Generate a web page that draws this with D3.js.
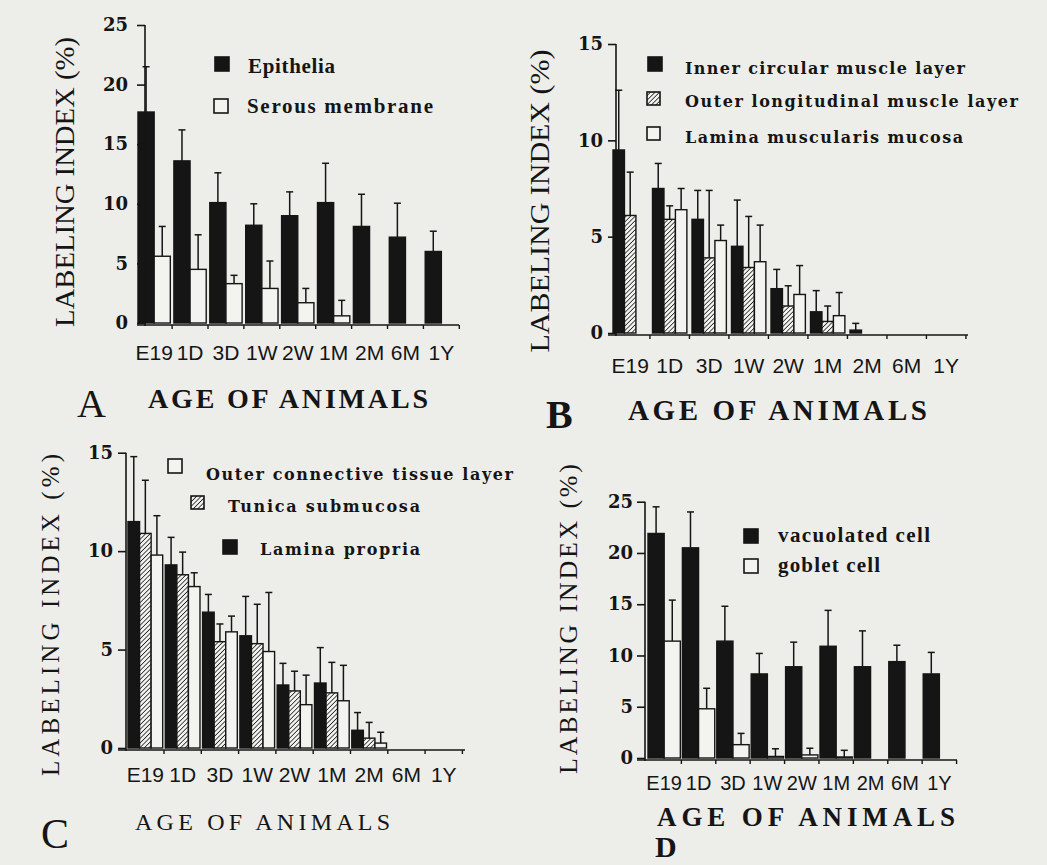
<!DOCTYPE html>
<html><head><meta charset="utf-8">
<script src="https://cdn.jsdelivr.net/npm/d3@7"></script>
<style>html,body{margin:0;padding:0;background:#edeeea;} svg{display:block}</style>
</head><body><svg id="chart" width="1047" height="865"></svg>
<script>
// ---------- DATA ----------
const ages = ["E19","1D","3D","1W","2W","1M","2M","6M","1Y"];

// Panel A
const epithelia    = [17.7, 13.6, 10.1, 8.2, 9.0, 10.1, 8.1, 7.2, 6.0];
const epitheliaSD  = [3.8, 2.6, 2.5, 1.8, 2.0, 3.3, 2.7, 2.85, 1.7];
const serous       = [5.6, 4.5, 3.3, 2.9, 1.7, 0.6, null, null, null];
const serousSD     = [2.5, 2.9, 0.7, 2.3, 1.2, 1.3, null, null, null];

// Panel B
const innerCircular   = [9.5, 7.5, 5.9, 4.5, 2.3, 1.1, 0.15, null, null];
const innerCircularSD = [3.1, 1.3, 1.5, 2.4, 1.0, 1.1, 0.35, null, null];
const outerLong       = [6.1, 5.9, 3.9, 3.4, 1.4, 0.6, null, null, null];
const outerLongSD     = [2.25, 0.7, 3.5, 2.65, 1.05, 0.8, null, null, null];
const laminaMusc      = [null, 6.4, 4.8, 3.7, 2.0, 0.9, null, null, null];
const laminaMuscSD    = [null, 1.1, 0.8, 1.9, 1.5, 1.2, null, null, null];

// Panel C
const laminaPropria    = [11.5, 9.3, 6.9, 5.7, 3.2, 3.3, 0.9, null, null];
const laminaPropriaSD  = [3.3, 1.4, 0.9, 2.0, 1.1, 1.8, 0.9, null, null];
const submucosa        = [10.9, 8.8, 5.4, 5.3, 2.9, 2.8, 0.5, null, null];
const submucosaSD      = [2.7, 1.15, 0.9, 2.0, 1.0, 1.55, 0.8, null, null];
const outerConnective  = [9.8, 8.2, 5.9, 4.9, 2.2, 2.4, 0.25, null, null];
const outerConnectiveSD= [2.0, 0.7, 0.8, 3.0, 1.5, 1.8, 0.55, null, null];

// Panel D
const vacuolated   = [21.9, 20.5, 11.4, 8.2, 8.9, 10.9, 8.9, 9.4, 8.2];
const vacuolatedSD = [2.6, 3.5, 3.4, 2.0, 2.4, 3.5, 3.5, 1.6, 2.1];
const goblet       = [11.4, 4.8, 1.3, 0.15, 0.3, 0.1, null, null, null];
const gobletSD     = [4.0, 2.0, 1.1, 0.75, 0.65, 0.65, null, null, null];

const ticksA = [0, 5, 10, 15, 20, 25];
const ticksB = [0, 5, 10, 15];
const ticksC = [0, 5, 10, 15];
const ticksD = [0, 5, 10, 15, 20, 25];

// ---------- DRAWING ----------
const svg = d3.select("#chart");
const INK = "#151515";
const PAPER = "#f3f3f0";
svg.append("rect").attr("width", 1047).attr("height", 865).attr("fill", "#edeeea");

const defs = svg.append("defs");
defs.append("pattern").attr("id", "hatch").attr("patternUnits", "userSpaceOnUse")
  .attr("width", 3.2).attr("height", 3.2).attr("patternTransform", "rotate(45)")
  .call(p => {
    p.append("rect").attr("width", 3.2).attr("height", 3.2).attr("fill", PAPER);
    p.append("line").attr("x1", 0).attr("y1", 0).attr("x2", 0).attr("y2", 3.2)
      .attr("stroke", INK).attr("stroke-width", 1.5);
  });

const FILL = { black: INK, white: PAPER, hatch: "url(#hatch)" };
const SERIF = "'Liberation Serif','Times New Roman',serif";
const NUMF = "'DejaVu Serif',serif";
const SANS = "'Liberation Sans Narrow','Arial Narrow','Liberation Sans',Arial,sans-serif";

function txt(g, s, x, y, o) {
  const t = g.append("text").attr("x", x).attr("y", y).text(s)
    .attr("fill", INK).attr("font-family", o.family || SERIF)
    .attr("font-size", o.size).attr("font-weight", o.weight || "normal");
  if (o.len) t.attr("textLength", o.len).attr("lengthAdjust", o.adjust || "spacingAndGlyphs");
  if (o.anchor) t.attr("text-anchor", o.anchor);
  if (o.rotate) t.attr("transform", `rotate(-90,${x},${y})`);
  return t;
}

function drawPanel(p) {
  const g = svg.append("g");
  const y = d3.scaleLinear().domain([0, p.yMax]).range([p.y0, p.yTop]);
  const x = d3.scaleBand().domain(ages)
    .range([p.x0, p.x0 + p.pitch * (ages.length - p.pad)]).paddingInner(p.pad).paddingOuter(0);
  const xs = d3.scaleBand().domain(d3.range(p.series.length)).range([0, x.bandwidth()]);

  // bars
  p.series.forEach((s, si) => {
    const rows = ages.map((a, i) => ({ a, v: s.values[i], sd: s.sd[i] })).filter(d => d.v != null);
    g.selectAll(null).data(rows).join("rect")
      .attr("x", d => x(d.a) + xs(si))
      .attr("y", d => y(d.v))
      .attr("width", xs.bandwidth())
      .attr("height", d => y(0) - y(d.v))
      .attr("fill", FILL[s.fill]).attr("stroke", INK).attr("stroke-width", 1.4);
    const eb = rows.filter(d => d.sd != null);
    const cx = d => x(d.a) + xs(si) + xs.bandwidth() / 2;
    g.selectAll(null).data(eb).join("line")
      .attr("x1", cx).attr("x2", cx)
      .attr("y1", d => y(d.v)).attr("y2", d => y(d.v + d.sd))
      .attr("stroke", INK).attr("stroke-width", 1.5);
    g.selectAll(null).data(eb).join("line")
      .attr("x1", d => cx(d) - 3.5).attr("x2", d => cx(d) + 3.5)
      .attr("y1", d => y(d.v + d.sd)).attr("y2", d => y(d.v + d.sd))
      .attr("stroke", INK).attr("stroke-width", 1.5);
  });

  // y axis
  const ya = g.append("g").attr("transform", `translate(${p.yAxisX},0)`)
    .call(d3.axisLeft(y).tickValues(p.ticks).tickFormat(d3.format("d"))
      .tickSize(8).tickSizeOuter(0).tickPadding(p.tickPad));
  ya.select(".domain").remove();
  ya.selectAll(".tick line").attr("stroke", INK).attr("stroke-width", 1.6);
  ya.selectAll(".tick text").attr("fill", INK).attr("font-family", NUMF)
    .attr("font-weight", "bold").attr("font-size", 18);
  g.append("line").attr("x1", p.yAxisX).attr("x2", p.yAxisX)
    .attr("y1", y(p.yMax)).attr("y2", y(0) + 3).attr("stroke", INK).attr("stroke-width", 1.6);

  // x axis
  g.append("line").attr("x1", p.yAxisX - 8).attr("x2", p.xEnd)
    .attr("y1", y(0) + 2).attr("y2", y(0) + 2).attr("stroke", INK).attr("stroke-width", 1.6);
  const gap = x.step() - x.bandwidth();
  g.selectAll(null).data(ages).join("line")
    .attr("x1", d => x(d) + x.bandwidth() + gap / 2).attr("x2", d => x(d) + x.bandwidth() + gap / 2)
    .attr("y1", y(0) + 2).attr("y2", y(0) + 6).attr("stroke", INK).attr("stroke-width", 1.4);
  const xa = g.append("g").attr("transform", `translate(0,${p.labelY})`)
    .call(d3.axisBottom(x).tickSize(0).tickPadding(0));
  xa.select(".domain").remove();
  xa.selectAll(".tick text").attr("fill", INK).attr("font-family", SANS)
    .attr("font-size", p.labelSize || 21).attr("dy", 0).attr("y", 0);

  // titles
  const yt = p.yTitle;
  txt(g, "LABELING INDEX (%)", yt.x, yt.y, { size: yt.size, len: yt.len, anchor: "middle", rotate: true, adjust: yt.adjust });
  const xt = p.xTitle;
  txt(g, "AGE OF ANIMALS", xt.x, xt.y, { size: xt.size, len: xt.len, weight: xt.weight, adjust: xt.adjust });
  txt(g, p.letter.t, p.letter.x, p.letter.y, { size: p.letter.size, weight: p.letter.weight });

  // legend
  p.legend.forEach(l => {
    g.append("rect").attr("x", l.sx).attr("y", l.sy).attr("width", l.ss).attr("height", l.ss)
      .attr("fill", FILL[l.fill]).attr("stroke", INK).attr("stroke-width", 1.6);
    txt(g, l.label, l.tx, l.ty, { size: l.size, weight: "bold", family: l.family, len: l.len, adjust: "spacing" });
  });
}

// Panel A
drawPanel({
  x0: 138, pitch: 35.9, pad: 0.1, y0: 323, yTop: 25, yMax: 25, ticks: ticksA,
  yAxisX: 145, xEnd: 459, tickPad: 9, labelY: 360,
  series: [
    { values: epithelia, sd: epitheliaSD, fill: "black" },
    { values: serous, sd: serousSD, fill: "white" }
  ],
  yTitle: { x: 74, y: 182, size: 27, len: 290 },
  xTitle: { x: 148, y: 408, size: 28, len: 280, weight: "bold", adjust: "spacing" },
  letter: { t: "A", x: 77, y: 417, size: 40 },
  legend: [
    { sx: 215, sy: 57, ss: 14, fill: "black", label: "Epithelia", tx: 248, ty: 73, size: 21, len: 87 },
    { sx: 214, sy: 99, ss: 14, fill: "white", label: "Serous membrane", tx: 247, ty: 113, size: 21, len: 186 }
  ]
});

// Panel B
drawPanel({
  x0: 613, pitch: 39.5, pad: 0.13, y0: 333, yTop: 44, yMax: 15, ticks: ticksB,
  yAxisX: 616, xEnd: 968, tickPad: 5, labelY: 373,
  series: [
    { values: innerCircular, sd: innerCircularSD, fill: "black" },
    { values: outerLong, sd: outerLongSD, fill: "hatch" },
    { values: laminaMusc, sd: laminaMuscSD, fill: "white" }
  ],
  yTitle: { x: 549, y: 201, size: 27, len: 303 },
  xTitle: { x: 628, y: 420, size: 29, len: 299, weight: "bold", adjust: "spacing" },
  letter: { t: "B", x: 546, y: 428, size: 40, weight: "bold" },
  legend: [
    { sx: 648, sy: 57, ss: 14, fill: "black", label: "Inner circular muscle layer", tx: 685, ty: 74, size: 16, len: 280, family: NUMF },
    { sx: 647, sy: 92, ss: 13, fill: "hatch", label: "Outer longitudinal muscle layer", tx: 685, ty: 107, size: 16, len: 333, family: NUMF },
    { sx: 647, sy: 127, ss: 13, fill: "white", label: "Lamina muscularis mucosa", tx: 685, ty: 143, size: 16, len: 278, family: NUMF }
  ]
});

// Panel C
drawPanel({
  x0: 128, pitch: 37.3, pad: 0.07, y0: 748, yTop: 452.7, yMax: 15, ticks: ticksC,
  yAxisX: 126, xEnd: 465, tickPad: 5, labelY: 782,
  series: [
    { values: laminaPropria, sd: laminaPropriaSD, fill: "black" },
    { values: submucosa, sd: submucosaSD, fill: "hatch" },
    { values: outerConnective, sd: outerConnectiveSD, fill: "white" }
  ],
  yTitle: { x: 59, y: 615, size: 25, len: 322, adjust: "spacing" },
  xTitle: { x: 135, y: 830, size: 24, len: 255, weight: "normal", adjust: "spacing" },
  letter: { t: "C", x: 41, y: 848, size: 42 },
  legend: [
    { sx: 168, sy: 459, ss: 14, fill: "white", label: "Outer connective tissue layer", tx: 206, ty: 480, size: 16, len: 307, family: NUMF },
    { sx: 191, sy: 496, ss: 13, fill: "hatch", label: "Tunica submucosa", tx: 228, ty: 512, size: 16, len: 192, family: NUMF },
    { sx: 223, sy: 540, ss: 14, fill: "black", label: "Lamina propria", tx: 260, ty: 555, size: 16, len: 160, family: NUMF }
  ]
});

// Panel D
drawPanel({
  x0: 648, pitch: 34.4, pad: 0.06, y0: 758, yTop: 501.7, yMax: 25, ticks: ticksD,
  yAxisX: 645, xEnd: 957, tickPad: 4, labelY: 790, labelSize: 20,
  series: [
    { values: vacuolated, sd: vacuolatedSD, fill: "black" },
    { values: goblet, sd: gobletSD, fill: "white" }
  ],
  yTitle: { x: 577, y: 619, size: 26, len: 310, adjust: "spacing" },
  xTitle: { x: 657, y: 826, size: 27, len: 298, weight: "bold", adjust: "spacing" },
  letter: { t: "D", x: 655, y: 857, size: 30, weight: "bold" },
  legend: [
    { sx: 744, sy: 529, ss: 14, fill: "black", label: "vacuolated cell", tx: 778, ty: 542, size: 21, len: 152 },
    { sx: 744, sy: 559, ss: 14, fill: "white", label: "goblet cell", tx: 778, ty: 572, size: 21, len: 102 }
  ]
});
</script>
</body></html>
